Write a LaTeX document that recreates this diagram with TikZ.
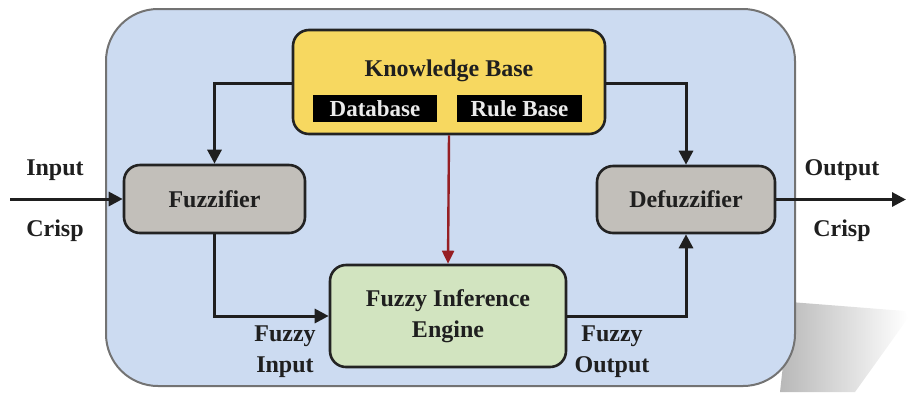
\documentclass[tikz,border=0pt]{standalone}
\usepackage{fontspec}
\setmainfont{Liberation Serif}
\usetikzlibrary{arrows.meta,fadings}
\definecolor{outerfill}{RGB}{204,219,241}
\definecolor{kbfill}{RGB}{247,216,96}
\definecolor{fzfill}{RGB}{194,191,186}
\definecolor{fiefill}{RGB}{210,228,192}
\definecolor{redarrow}{RGB}{150,30,35}
\definecolor{edge}{RGB}{35,35,35}
\begin{document}
\begin{tikzpicture}[x=1pt,y=-1pt,
  txt/.style={font=\fontsize{24}{31}\selectfont\bfseries, text=black!88},
  block/.style={draw=edge, line width=2.6pt, rounded corners=16pt, txt, align=center, inner sep=0pt},
  conn/.style={draw=black!88, line width=3pt, -{Triangle[length=14pt,width=14pt]}},
  tag/.style={fill=black, text=white!92!black, font=\fontsize{23}{25}\selectfont\bfseries, inner sep=0pt, minimum height=27pt}
]
\useasboundingbox (0,0) rectangle (912,392);
% shadow
\fill[black!28, path fading=east] (790,302) -- (905,311) -- (908,318) -- (855,392) -- (780,392) -- cycle;
% outer panel
\draw[draw=black!55, line width=2pt, fill=outerfill, rounded corners=52pt] (106,9) rectangle (795,386);
% blocks
\node[block, fill=kbfill, minimum width=312pt, minimum height=104pt] (kb) at (449,82) {};
\node[txt] (kbt) at (449,71) {Knowledge Base};
\node[tag, minimum width=124pt] (db) at (375,108.5) {Database};
\node[tag, minimum width=125pt] (rb) at (519.5,108.5) {Rule Base};
\node[block, fill=fzfill, minimum width=181pt, minimum height=68pt] (fz) at (214.5,199) {Fuzzifier};
\node[block, fill=fzfill, minimum width=178pt, minimum height=67pt] (dfz) at (686,199.5) {Defuzzifier};
\node[block, fill=fiefill, minimum width=236pt, minimum height=102pt] (fie) at (448,316) {Fuzzy Inference\\Engine};
% labels
\node[txt] (in1) at (55,170) {Input};
\node[txt] (in2) at (55,231) {Crisp};
\node[txt] (out1) at (842,170) {Output};
\node[txt] (out2) at (842,231) {Crisp};
\node[txt, align=center] (fi) at (285,352) {Fuzzy\\Input};
\node[txt, align=center] (fo) at (612,352) {Fuzzy\\Output};
% coordinates
\coordinate (src) at (10,199);
\coordinate (dst) at (906,199.5);
% connectors
\draw[conn] (src) -- (fz.west);
\draw[conn] (dfz.east) -- (dst);
\draw[conn] (kb.west |- 0,83) -| (fz.north);
\draw[conn] (kb.east |- 0,83) -| (dfz.north);
\draw[conn, draw=redarrow, line width=2.4pt, -{Triangle[length=13pt,width=12pt]}] (kb.south) -- (fie.north);
\draw[conn] (fz.south) |- (fie.west);
\draw[conn] (fie.east) -| (dfz.south);
\end{tikzpicture}
\end{document}
